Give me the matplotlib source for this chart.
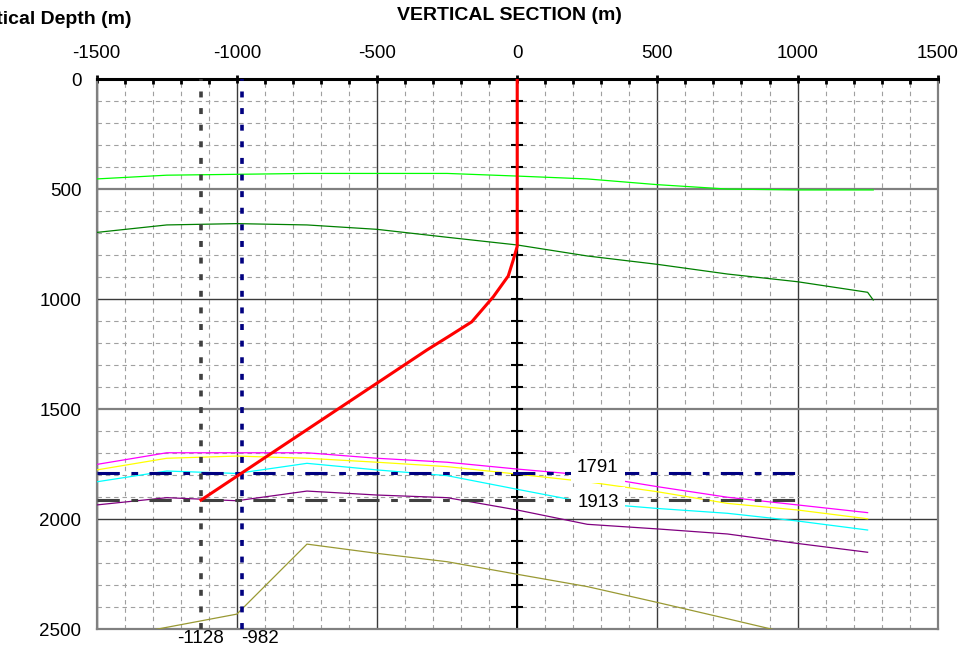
import numpy as np
import matplotlib
matplotlib.use('Agg')
import matplotlib.pyplot as plt
import matplotlib.transforms as mtransforms

plt.rcParams['font.family'] = ['Liberation Sans', 'DejaVu Sans']
plt.rcParams['axes.unicode_minus'] = False

# horizon picks, every 250 m along section
xs = [-1500, -1250, -1000, -750, -500, -250, 0, 250, 500, 750, 1000, 1250]
lgreen_x = [-1500, -1250, -1000, -750, -500, -250, 0, 250, 500, 750, 1000, 1270]
lgreen = [454, 437, 433, 429, 429, 429, 441, 454, 480, 500, 504, 504]
dgreen_x = [-1500, -1250, -1000, -750, -500, -250, 0, 250, 500, 750, 1000, 1250, 1270]
dgreen = [697, 663, 657, 663, 683, 719, 754, 804, 842, 886, 921, 969, 1004]
magenta = [1751, 1698, 1698, 1698, 1723, 1741, 1772, 1800, 1852, 1900, 1935, 1970]
yellow = [1776, 1723, 1713, 1723, 1741, 1761, 1795, 1830, 1875, 1928, 1958, 1998]
cyan = [1830, 1781, 1792, 1746, 1776, 1802, 1864, 1925, 1951, 1973, 2008, 2049]
purple = [1935, 1902, 1916, 1872, 1890, 1902, 1958, 2023, 2044, 2067, 2110, 2150]
olive = [2552, 2491, 2431, 2113, 2155, 2193, 2250, 2306, 2378, 2452, 2527, 2600]

# well path
well_x = [0, 0, -14, -32, -85, -162, -245, -322, -1128]
well_tvd = [0, 760, 822, 895, 989, 1103, 1170, 1231, 1913]

# markers
top1_tvd = 1791
top2_tvd = 1913
td_x1 = -1128
td_x2 = -982
marker_xmax = 1000

fig = plt.figure(figsize=(9.6, 6.49), dpi=100)
ax = fig.add_axes([96.7 / 960, 1 - 629.3 / 649, 841 / 960, 550.3 / 649])

ax.set_xlim(-1500, 1500)
ax.set_ylim(2500, 0)

ax.set_xticks(np.arange(-1500, 1501, 500))
ax.set_xticks(np.arange(-1500, 1501, 100), minor=True)
ax.set_yticks(np.arange(0, 2501, 500))
ax.set_yticks(np.arange(0, 2501, 100), minor=True)

ax.grid(which='major', color='#3a3a3a', lw=1.0, ls='-', zorder=0)
ax.grid(which='minor', color='#a0a0a0', lw=0.8, ls=(0, (4, 3.5)), zorder=0)
ax.set_axisbelow(True)
for gl, v in zip(ax.get_ygridlines(), np.arange(0, 2501, 500)):
    if v in (500, 1500):
        gl.set_color('#808080')
        gl.set_linewidth(1.6)

ax.xaxis.tick_top()
ax.tick_params(axis='x', which='major', direction='inout', length=6, width=2,
               labelsize=13.5, pad=9, color='k')
ax.tick_params(axis='x', which='minor', direction='in', length=3.5, width=2, color='k')
ax.tick_params(axis='y', which='both', length=0, labelsize=13.5, pad=11)
ax.tick_params(axis='x', which='major', top=True, bottom=False)

for side in ['left', 'right', 'bottom']:
    ax.spines[side].set_color('#808080')
    ax.spines[side].set_linewidth(1.6)
ax.spines['top'].set_color('k')
ax.spines['top'].set_linewidth(2.2)

# centre axis with ticks
ax.axvline(0, color='k', lw=1.4, zorder=2)
tk = np.arange(100, 2500, 100)
ax.plot(np.zeros(len(tk)), tk, ls='none', marker='_', ms=8, mew=1.5, color='k', zorder=2)

lw = 0.9
ax.plot(lgreen_x, lgreen, color='#00ff00', lw=lw, zorder=3)
ax.plot(dgreen_x, dgreen, color='#008000', lw=lw, zorder=3)
ax.plot(xs, magenta, color='#ff00ff', lw=lw, zorder=3)
ax.plot(xs, yellow, color='#ffff00', lw=lw, zorder=3)
ax.plot(xs, cyan, color='#00ffff', lw=lw, zorder=3)
ax.plot(xs, purple, color='#800080', lw=lw, zorder=3)
ax.plot(xs, olive, color='#999933', lw=lw, zorder=3)

dashdot = (0, (7.3, 3.8, 2.2, 3.7))
ax.plot([-1500, marker_xmax], [top1_tvd, top1_tvd], color='#000080', lw=2.2, ls=dashdot, zorder=4)
ax.plot([-1500, marker_xmax], [top2_tvd, top2_tvd], color='#404040', lw=2.2, ls=dashdot, zorder=4)

dots = (0, (1.65, 2.95))
ax.axvline(td_x1, color='#404040', lw=2.6, ls=dots, zorder=4)
ax.axvline(td_x2, color='#000080', lw=2.6, ls=dots, zorder=4)

ax.plot(well_x, well_tvd, color='#ff0000', lw=2.2, zorder=5)

bb = dict(facecolor='white', edgecolor='none', pad=4.5)
ax.text(288, 1767, str(top1_tvd), fontsize=13.5, ha='center', va='center', bbox=bb, zorder=6)
ax.text(288, 1922, str(top2_tvd), fontsize=13.5, ha='center', va='center', bbox=bb, zorder=6)

trans = mtransforms.blended_transform_factory(ax.transData, ax.transAxes)
ax.text(td_x1, -0.016, str(td_x1), fontsize=13.5, ha='center', va='center', transform=trans)
ax.text(-985, -0.016, str(td_x2), fontsize=13.5, ha='left', va='center', transform=trans)

fig.text(509 / 960, 1 - 15 / 649, 'VERTICAL SECTION (m)', fontsize=14, fontweight='bold',
         ha='center', va='center')
fig.text(131 / 960, 1 - 20 / 649, 'Vertical Depth (m)', fontsize=14, fontweight='bold',
         ha='right', va='center')

fig.savefig('out.png', dpi=100)
